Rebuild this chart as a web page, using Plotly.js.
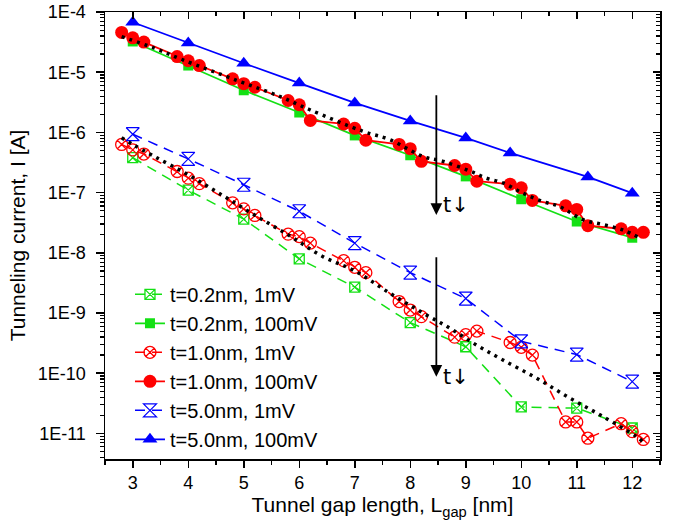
<!DOCTYPE html>
<html>
<head>
<meta charset="utf-8">
<script src="https://cdn.plot.ly/plotly-3.0.1.min.js"></script>
<style>html,body{margin:0;padding:0;background:#fff;}#chart{width:691px;height:529px;}</style>
</head>
<body>
<div id="chart"></div>
<script>
// ---- data ----
const xInt = [3, 4, 5, 6, 7, 8, 9, 10, 11, 12];
const xTriplet = [2.8, 3, 3.2, 3.8, 4, 4.2, 4.8, 5, 5.2, 5.8, 6, 6.2, 6.8, 7, 7.2, 7.8, 8, 8.2, 8.8, 9, 9.2, 9.8, 10, 10.2, 10.8, 11, 11.2, 11.8, 12, 12.2];
const xBlue100 = [3, 4, 5, 6, 7, 8, 9, 9.8, 11.2, 12];

const green1mV = [3.80e-7, 1.10e-7, 3.63e-8, 7.94e-9, 2.69e-9, 6.92e-10, 2.75e-10, 2.75e-11, 2.63e-11, 1.23e-11];
const green100mV = [3.24e-5, 1.29e-5, 5.01e-6, 2.14e-6, 8.91e-7, 4.17e-7, 1.86e-7, 7.76e-8, 3.31e-8, 1.78e-8];
const red1mV = [6.31e-7, 5.13e-7, 4.37e-7, 2.24e-7, 1.74e-7, 1.41e-7, 6.76e-8, 5.37e-8, 4.17e-8, 2.04e-8,
  1.86e-8, 1.45e-8, 7.41e-9, 5.75e-9, 4.68e-9, 1.55e-9, 1.12e-9, 8.71e-10, 3.98e-10, 4.37e-10,
  5.01e-10, 3.24e-10, 2.69e-10, 2.00e-10, 1.55e-11, 1.55e-11, 8.32e-12, 1.45e-11, 1.07e-11, 7.94e-12];
const red100mV = [4.57e-5, 3.72e-5, 3.16e-5, 1.82e-5, 1.55e-5, 1.29e-5, 7.76e-6, 6.46e-6, 5.62e-6, 3.39e-6,
  2.88e-6, 1.58e-6, 1.38e-6, 1.17e-6, 7.41e-7, 6.31e-7, 5.37e-7, 3.31e-7, 2.82e-7, 2.45e-7,
  1.55e-7, 1.38e-7, 1.20e-7, 7.41e-8, 6.03e-8, 5.25e-8, 2.82e-8, 2.51e-8, 2.19e-8, 2.19e-8];
const blue1mV = [9.33e-7, 3.63e-7, 1.35e-7, 4.90e-8, 1.45e-8, 4.68e-9, 1.74e-9, 3.39e-10, 2.04e-10, 7.24e-11];
const blue100mV = [6.76e-5, 3.05e-5, 1.41e-5, 6.6e-6, 3.09e-6, 1.55e-6, 8.1e-7, 4.57e-7, 1.82e-7, 9.8e-8];

const fitUpperX = [2.8, 3.39, 3.89, 4.89, 5.67, 6.18, 7.14, 7.63, 8.23, 8.59, 9.07, 9.37, 9.67, 10.03, 10.39, 10.69, 11.11, 11.47, 11.83, 12.13];
const fitUpperY = [3.89e-5, 2.51e-5, 1.62e-5, 7.24e-6, 3.89e-6, 2.40e-6, 1.05e-6, 7.59e-7, 3.98e-7, 3.31e-7,
  2.29e-7, 1.74e-7, 1.45e-7, 9.77e-8, 7.08e-8, 5.89e-8, 3.55e-8, 2.95e-8, 2.40e-8, 1.78e-8];
const fitLowerX = [2.8, 3.0, 3.39, 3.99, 4.59, 5.19, 5.85, 6.42, 7.02, 7.63, 8.23, 8.71, 9.19, 9.67, 10.27, 10.87, 11.47, 12.07, 12.18];
const fitLowerY = [8.13e-7, 6.31e-7, 3.98e-7, 2.00e-7, 9.33e-8, 4.27e-8, 1.86e-8, 8.71e-9, 4.90e-9, 2.14e-9,
  1.00e-9, 5.62e-10, 2.95e-10, 1.66e-10, 8.32e-11, 3.89e-11, 1.91e-11, 8.91e-12, 7.41e-12];

const names = ['t=0.2nm, 1mV', 't=0.2nm, 100mV', 't=1.0nm, 1mV', 't=1.0nm, 100mV', 't=5.0nm, 1mV', 't=5.0nm, 100mV'];
const yTickVals = [1e-4, 1e-5, 1e-6, 1e-7, 1e-8, 1e-9, 1e-10, 1e-11];
const yTickText = ['1E-4', '1E-5', '1E-6', '1E-7', '1E-8', '1E-9', '1E-10', '1E-11'];
const xTickVals = [3, 4, 5, 6, 7, 8, 9, 10, 11, 12];

// arrow annotations (x, top, bottom in log10 units)
const arrowX = 8.47;
const arrowsLog = [[-5.36, -7.37], [-8.05, -10.06]];
const arrowLabelLog = [-7.2, -10.07];

// ---- styles ----
const GREEN = '#14e014', RED = '#ff0000', BLUE = '#0000ff';
const FONT = 'Liberation Sans, Arial, sans-serif';
const dashed = '10px,7px';

const traces = [
  {x: xInt, y: green1mV, name: names[0], mode: 'lines+markers',
   line: {color: GREEN, width: 1.5, dash: dashed},
   marker: {symbol: 'square-x-open', size: 10, color: GREEN, line: {width: 1.3, color: GREEN}}},
  {x: xInt, y: green100mV, name: names[1], mode: 'lines+markers',
   line: {color: GREEN, width: 1.8},
   marker: {symbol: 'square', size: 10, color: GREEN}},
  {x: xTriplet, y: red1mV, name: names[2], mode: 'lines+markers',
   line: {color: RED, width: 1.5, dash: dashed},
   marker: {symbol: 'circle-x-open', size: 12, color: RED, line: {width: 1.3, color: RED}}},
  {x: xTriplet, y: red100mV, name: names[3], mode: 'lines+markers',
   line: {color: RED, width: 1.8},
   marker: {symbol: 'circle', size: 13, color: RED}},
  {x: xInt, y: blue1mV, name: names[4], mode: 'lines+markers',
   line: {color: BLUE, width: 1.5, dash: dashed},
   marker: {symbol: 'hourglass-open', size: 13, color: BLUE, line: {width: 1.2, color: BLUE}}},
  {x: xBlue100, y: blue100mV, name: names[5], mode: 'lines+markers',
   line: {color: BLUE, width: 1.8},
   marker: {symbol: 'triangle-up', size: 13, color: BLUE}},
  {x: fitUpperX, y: fitUpperY, mode: 'lines', showlegend: false, hoverinfo: 'skip',
   line: {color: '#000', width: 3.5, dash: '3px,5px', shape: 'spline'}},
  {x: fitLowerX, y: fitLowerY, mode: 'lines', showlegend: false, hoverinfo: 'skip',
   line: {color: '#000', width: 3.5, dash: '3px,5px', shape: 'spline'}},
  {x: [null], y: [null], xaxis: 'x2', yaxis: 'y2', showlegend: false, hoverinfo: 'skip', mode: 'markers'}
];

const annotations = [];
arrowsLog.forEach(function (a, i) {
  annotations.push({x: arrowX, y: a[1], ax: arrowX, ay: a[0], xref: 'x', yref: 'y', axref: 'x', ayref: 'y',
    showarrow: true, arrowhead: 2, arrowsize: 1.3, arrowwidth: 1.8, arrowcolor: '#000', text: ''});
  annotations.push({x: 8.82, y: arrowLabelLog[i], xref: 'x', yref: 'y', showarrow: false,
    text: 't\u2193', font: {family: 'DejaVu Sans, Liberation Sans, sans-serif', size: 21, color: '#000'}});
});

const range = [2.5, 12.5];
const yRange = [-11.425, -4];

const layout = {
  width: 691, height: 529,
  margin: {l: 105, r: 31, t: 12, b: 70},
  paper_bgcolor: '#fff', plot_bgcolor: '#fff',
  font: {family: FONT, color: '#000', size: 18},
  showlegend: true,
  legend: {x: 0.045, y: 0.412, xanchor: 'left', yanchor: 'top', bgcolor: 'rgba(0,0,0,0)',
    font: {family: FONT, size: 20, color: '#000'}, tracegroupgap: 0},
  xaxis: {range: range, tickmode: 'array', tickvals: xTickVals, ticks: 'outside', ticklen: 7, tickwidth: 1.5,
    tickcolor: '#000', showline: true, linecolor: '#000', linewidth: 1.5, showgrid: false, zeroline: false,
    tickfont: {family: FONT, size: 18, color: '#000'},
    minor: {dtick: 0.5, tick0: 2.5, ticks: 'outside', ticklen: 4, tickwidth: 1.5, tickcolor: '#000', showgrid: false},
    title: {text: 'Tunnel gap length, L<sub>gap</sub> [nm]', font: {family: FONT, size: 21, color: '#000'}, standoff: 0}},
  yaxis: {type: 'log', range: yRange, tickmode: 'array', tickvals: yTickVals, ticktext: yTickText,
    ticks: 'outside', ticklen: 8, tickwidth: 1.5, tickcolor: '#000', showline: true, linecolor: '#000', linewidth: 1.5,
    showgrid: false, zeroline: false, tickfont: {family: FONT, size: 18, color: '#000'}, ticklabelstandoff: 6,
    minor: {dtick: 'D1', ticks: 'outside', ticklen: 4, tickwidth: 1.2, tickcolor: '#000', showgrid: false},
    title: {text: 'Tunneling current, I [A]', font: {family: FONT, size: 21, color: '#000'}, standoff: 6}},
  xaxis2: {overlaying: 'x', side: 'top', range: range, tickmode: 'array', tickvals: xTickVals, ticks: 'inside',
    ticklen: 7, tickwidth: 1.5, tickcolor: '#000', showticklabels: false, showline: true, linecolor: '#000',
    linewidth: 1.5, showgrid: false, zeroline: false,
    minor: {dtick: 0.5, tick0: 2.5, ticks: 'inside', ticklen: 4, tickwidth: 1.5, tickcolor: '#000', showgrid: false}},
  yaxis2: {overlaying: 'y', side: 'right', type: 'log', range: yRange, tickmode: 'array', tickvals: yTickVals,
    ticks: 'inside', ticklen: 7, tickwidth: 1.5, tickcolor: '#000', showticklabels: false, showline: true,
    linecolor: '#000', linewidth: 1.5, showgrid: false, zeroline: false,
    minor: {dtick: 'D1', ticks: 'inside', ticklen: 4, tickwidth: 1.2, tickcolor: '#000', showgrid: false}},
  annotations: annotations
};

Plotly.newPlot('chart', traces, layout, {displayModeBar: false, staticPlot: true});
</script>
</body>
</html>
